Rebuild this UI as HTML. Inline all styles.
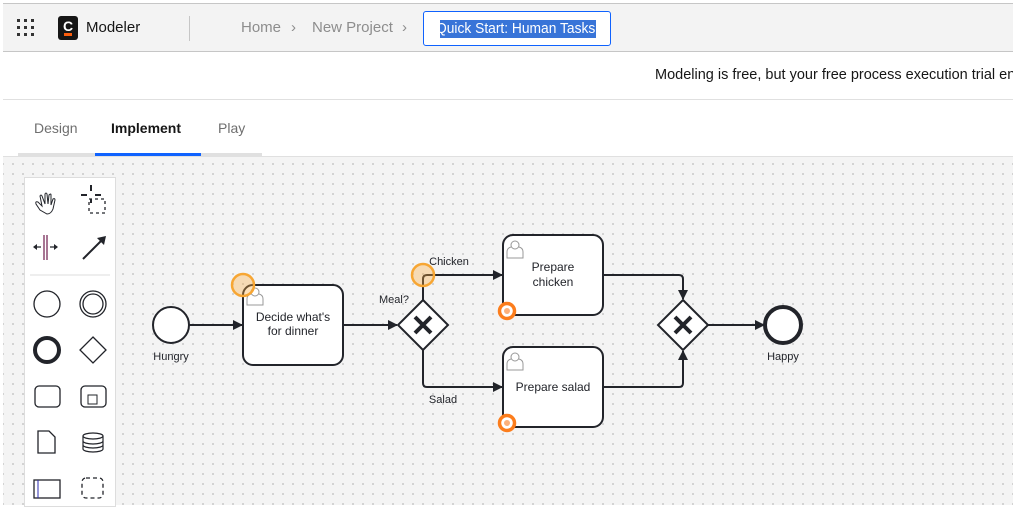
<!DOCTYPE html>
<html><head><meta charset="utf-8"><style>
*{margin:0;padding:0;box-sizing:border-box}
body{width:1013px;height:505px;overflow:hidden;background:#fff;font-family:"Liberation Sans",sans-serif;position:relative}
.hdr{position:absolute;left:3px;top:3px;width:1010px;height:49px;background:#f3f3f3;border-top:1px solid #c6c6c6;border-bottom:1px solid #c6c6c6}
.abs{position:absolute}
.notice{position:absolute;left:3px;top:52px;width:1010px;height:48px;border-bottom:1px solid #e0e0e0;background:#fff}
.canvas{position:absolute;left:3px;top:156px;width:1010px;height:349px;background-color:#f4f4f4;background-image:radial-gradient(circle,#bdbdbd 0.7px,transparent 1px);background-size:10px 10px;background-position:5px 2px;border-top:1px solid #e0e0e0}
</style></head><body>
<div class="hdr">
  <div class="abs" style="left:14px;top:15px;width:20px;height:20px">
    <svg width="20" height="20"><g fill="#333"><rect x="0" y="0" width="3" height="3"/><rect x="7" y="0" width="3" height="3"/><rect x="14" y="0" width="3" height="3"/><rect x="0" y="7" width="3" height="3"/><rect x="7" y="7" width="3" height="3"/><rect x="14" y="7" width="3" height="3"/><rect x="0" y="14" width="3" height="3"/><rect x="7" y="14" width="3" height="3"/><rect x="14" y="14" width="3" height="3"/></g></svg>
  </div>
  <div class="abs" style="left:55px;top:12px;width:20px;height:24px;background:#161616;border-radius:3px;color:#fff;font-size:14px;font-weight:bold;text-align:center;line-height:20px">C<div style="position:absolute;left:6px;top:17px;width:8px;height:3px;background:#fc5d0d"></div></div>
  <div class="abs" style="left:83px;top:15px;font-size:15px;color:#161616">Modeler</div>
  <div class="abs" style="left:186px;top:12px;width:1px;height:25px;background:#c6c6c6"></div>
  <div class="abs" style="left:238px;top:15px;font-size:15px;color:#8d8d8d">Home</div>
  <div class="abs" style="left:288px;top:15px;font-size:15px;color:#8d8d8d">›</div>
  <div class="abs" style="left:309px;top:15px;font-size:15px;color:#8d8d8d">New Project</div>
  <div class="abs" style="left:399px;top:15px;font-size:15px;color:#8d8d8d">›</div>
  <div class="abs" style="left:420px;top:7px;width:188px;height:35px;background:#fff;border:1px solid #0f62fe;border-radius:3px;overflow:hidden">
    <div class="abs" style="left:16px;top:8px;height:18px;width:156px;background:#3874d8"></div>
    <div class="abs" style="left:12px;top:8px;font-size:15px;line-height:18px;color:#fff;white-space:nowrap;transform:scaleX(0.92);transform-origin:0 0">Quick Start: Human Tasks</div>
  </div>
</div>
<div class="notice"><div class="abs" style="left:652px;top:15px;font-size:14.5px;color:#161616;white-space:nowrap">Modeling is free, but your free process execution trial en</div></div>
<div class="abs" style="left:34px;top:120px;font-size:14px;color:#6f6f6f">Design</div>
<div class="abs" style="left:111px;top:120px;font-size:14px;color:#161616;font-weight:bold">Implement</div>
<div class="abs" style="left:218px;top:120px;font-size:14px;color:#6f6f6f">Play</div>
<div class="abs" style="left:18px;top:153px;width:244px;height:3px;background:#e0e0e0"></div>
<div class="abs" style="left:95px;top:153px;width:106px;height:3px;background:#0f62fe"></div>
<div class="canvas"></div>
<div class="abs" style="left:24px;top:177px;width:92px;height:330px;background:#fff;border:1px solid #ddd"></div>
<svg class="abs" style="left:0;top:0" width="1013" height="505">
  <defs><marker id="ar" markerWidth="10" markerHeight="10" refX="9" refY="5" orient="auto" markerUnits="userSpaceOnUse"><path d="M0,0 L10,5 L0,10 z" fill="#22242a"/></marker></defs>
  <g stroke="#22242a" fill="none" stroke-width="1.3">
    <path d="M40,210 l-4,-6 q-1,-3 2,-2 l4,4 l-2,-10 q1,-2 2,0 l3,8 l0,-10 q1,-2 2,0 l1,10 l1,-9 q2,-2 2,0 l0,10 l2,-6 q2,-1 2,1 l-2,9 q-2,5 -6,5 z" stroke-width="1"/>
    <path d="M87,195 h-6 M91,191 v-6 M95,195 h6 M91,199 v4" stroke-width="2"/>
    <rect x="89" y="199" width="16" height="14" stroke-dasharray="3,3"/>
    <line x1="44" y1="235" x2="44" y2="260" stroke="#7a2c5a"/><line x1="47" y1="235" x2="47" y2="260" stroke="#7a2c5a"/>
    <path d="M35,247 h6 M56,247 h-6"/>
    <path d="M83,259 L103,239" stroke-width="2"/>
  </g>
  <path d="M33,247 l4,-3 v6z M58,247 l-4,-3 v6z M106,236 l-9,2 l7,7z" fill="#22242a"/>
  <line x1="30" y1="275" x2="110" y2="275" stroke="#ddd"/>
  <g stroke="#22242a" fill="#fff">
    <circle cx="47" cy="304" r="13" stroke-width="1.3"/>
    <circle cx="93" cy="304" r="13" stroke-width="1.3"/><circle cx="93" cy="304" r="10" stroke-width="1.3"/>
    <circle cx="47" cy="350" r="12" stroke-width="4"/>
    <path d="M93,337 l13,13 l-13,13 l-13,-13z" stroke-width="1.3"/>
    <rect x="35" y="386" width="25" height="21" rx="4" stroke-width="1.3"/>
    <rect x="81" y="386" width="25" height="21" rx="4" stroke-width="1.3"/>
    <rect x="88" y="395" width="9" height="9" stroke-width="1"/>
    <path d="M38,431 h11 l6,6 v16 h-17z" stroke-width="1.3"/>
    <ellipse cx="93" cy="436" rx="10" ry="3" stroke-width="1.2"/><path d="M83,436 v13 a10,3 0 0 0 20,0 v-13 M83,441 a10,3 0 0 0 20,0 M83,445 a10,3 0 0 0 20,0" fill="none" stroke-width="1.2"/>
    <rect x="34" y="480" width="26" height="18" stroke-width="1.3"/><line x1="38" y1="480" x2="38" y2="498" stroke="#2b2bb0"/>
    <rect x="82" y="478" width="21" height="20" rx="4" fill="none" stroke-dasharray="4,3" stroke-width="1.3"/>
  </g>
  <g stroke="#22242a" stroke-width="2" fill="none">
    <line x1="189" y1="325" x2="242" y2="325" marker-end="url(#ar)"/>
    <line x1="343" y1="325" x2="397" y2="325" marker-end="url(#ar)"/>
    <path d="M423,300 V279 q0,-4 4,-4 H502" marker-end="url(#ar)"/>
    <path d="M423,350 V383 q0,4 4,4 H502" marker-end="url(#ar)"/>
    <path d="M603,275 H679 q4,0 4,4 V299" marker-end="url(#ar)"/>
    <path d="M603,387 H679 q4,0 4,-4 V351" marker-end="url(#ar)"/>
    <line x1="708" y1="325" x2="764" y2="325" marker-end="url(#ar)"/>
  </g>
  <circle cx="171" cy="325" r="18" fill="#fff" stroke="#22242a" stroke-width="2"/>
  <rect x="243" y="285" width="100" height="80" rx="10" fill="#fff" stroke="#22242a" stroke-width="2"/>
  <rect x="503" y="235" width="100" height="80" rx="10" fill="#fff" stroke="#22242a" stroke-width="2"/>
  <rect x="503" y="347" width="100" height="80" rx="10" fill="#fff" stroke="#22242a" stroke-width="2"/>
  <path d="M423,300 L448,325 L423,350 L398,325z" fill="#fff" stroke="#22242a" stroke-width="2"/>
  <path d="M683,300 L708,325 L683,350 L658,325z" fill="#fff" stroke="#22242a" stroke-width="2"/>
  <path d="M415,317 L431,333 M431,317 L415,333 M675,317 L691,333 M691,317 L675,333" stroke="#22242a" stroke-width="4"/>
  <circle cx="783" cy="325" r="18" fill="#fff" stroke="#22242a" stroke-width="4"/>
  <g fill="#fff" stroke="#999" stroke-width="1">
    <path d="M247,305 v-6 q0,-4 4,-5 h8 q4,1 4,5 v6z"/><circle cx="255" cy="292" r="4"/>
    <path d="M507,258 v-6 q0,-4 4,-5 h8 q4,1 4,5 v6z"/><circle cx="515" cy="245" r="4"/>
    <path d="M507,370 v-6 q0,-4 4,-5 h8 q4,1 4,5 v6z"/><circle cx="515" cy="357" r="4"/>
  </g>
  <circle cx="243" cy="285" r="11" fill="rgba(250,170,60,0.35)" stroke="#f7a633" stroke-width="2.5"/>
  <circle cx="423" cy="275" r="11" fill="rgba(250,170,60,0.35)" stroke="#f7a633" stroke-width="2.5"/>
  <circle cx="507" cy="311" r="7.5" fill="#fff" stroke="#fc7d1c" stroke-width="3.5"/><circle cx="507" cy="311" r="3" fill="#fcb07a"/>
  <circle cx="507" cy="423" r="7.5" fill="#fff" stroke="#fc7d1c" stroke-width="3.5"/><circle cx="507" cy="423" r="3" fill="#fcb07a"/>
  <g font-family="Liberation Sans, sans-serif" fill="#22242a" font-size="12" text-anchor="middle">
    <text x="293" y="321">Decide what's</text><text x="293" y="335">for dinner</text>
    <text x="553" y="271">Prepare</text><text x="553" y="286">chicken</text>
    <text x="553" y="391">Prepare salad</text>
  </g>
  <g font-family="Liberation Sans, sans-serif" fill="#22242a" font-size="11" text-anchor="middle">
    <text x="171" y="360">Hungry</text>
    <text x="783" y="360">Happy</text>
    <text x="394" y="303">Meal?</text>
    <text x="449" y="265">Chicken</text>
    <text x="443" y="403">Salad</text>
  </g>
</svg>
</body></html>
